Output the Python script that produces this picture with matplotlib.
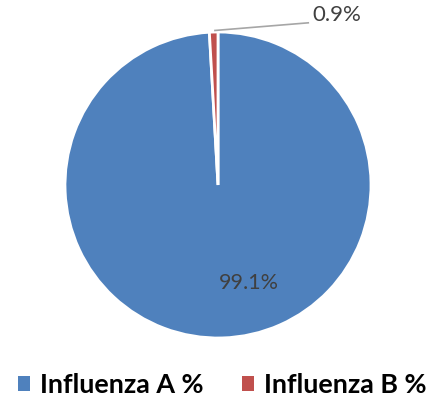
import matplotlib
matplotlib.use("Agg")
import matplotlib.pyplot as plt
from matplotlib.patches import Patch

categories = ["Influenza A %", "Influenza B %"]
values = [99.1, 0.9]
labels = ["99.1%", "0.9%"]
colors = ["#4F81BD", "#C0504D"]

W, H = 430, 404
fig = plt.figure(figsize=(W / 100, H / 100), dpi=100)
cx, cy, r = 218, 185, 153
ax = fig.add_axes([(cx - r) / W, 1 - (cy + r) / H, 2 * r / W, 2 * r / H])
wedges, _ = ax.pie(values, colors=colors, startangle=90, counterclock=False,
                   radius=1, wedgeprops=dict(edgecolor="white", linewidth=2))
ax.set_xlim(-1, 1)
ax.set_ylim(-1, 1)
ax.set_axis_off()

font = "Lato"
ax.text(0.2, -0.64, labels[0], ha="center", va="center", fontsize=15.5,
        color="#404040", family=font)
ax.plot([-0.02, 0.59], [1.01, 1.06], color="#A6A6A6", lw=1.2, clip_on=False)
ax.text(0.615, 1.11, labels[1], ha="left", va="center", fontsize=16,
        color="#404040", family=font)

handles = [Patch(facecolor=c, edgecolor="none") for c in colors]
leg = fig.legend(handles, categories, loc="center", bbox_to_anchor=(0.517, 1 - 385 / H),
                 ncol=2, frameon=False, handlelength=0.44, handleheight=0.44,
                 handletextpad=0.37, columnspacing=1.44, borderpad=0, borderaxespad=0,
                 prop=dict(family=font, weight="bold", size=19.4))
fig.savefig("out.png", dpi=100)
